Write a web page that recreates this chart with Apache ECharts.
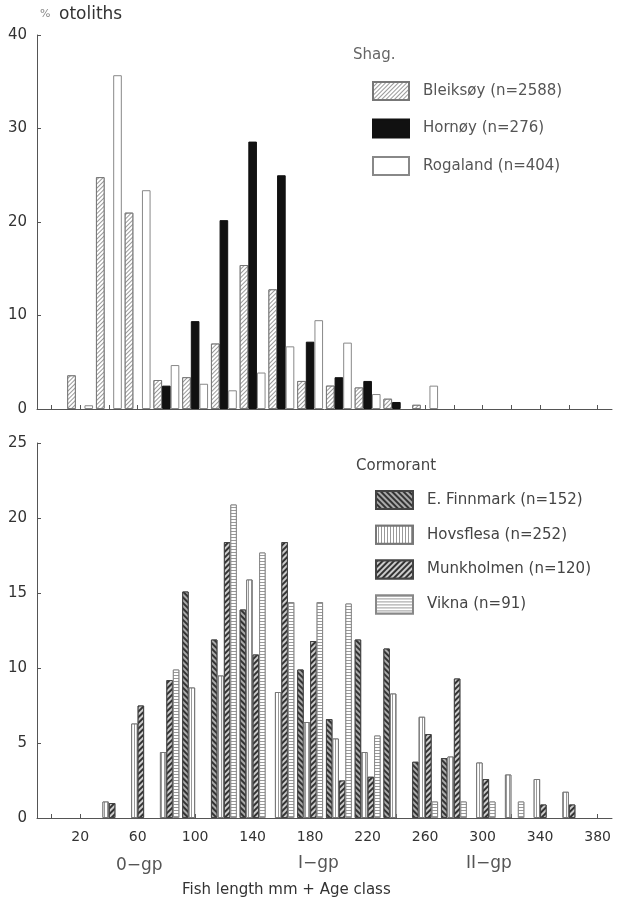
<!DOCTYPE html>
<html>
<head>
<meta charset="utf-8">
<script src="https://cdn.jsdelivr.net/npm/echarts@6/dist/echarts.min.js"></script>
<style>
html,body{margin:0;padding:0;background:#fff;}
#chart{width:617px;height:908px;}
</style>
</head>
<body>
<div id="chart"></div>
<script>
// Length classes (mm), 20 mm bins
const categories = [0,20,40,60,80,100,120,140,160,180,200,220,240,260,280,300,320,340,360,380];

// Shag (% otoliths)
const bleiksoy = [0,3.6,24.8,21.0,3.1,3.4,7.0,15.4,12.8,3.0,2.5,2.3,1.1,0.45,0,0,0,0,0,0];
const hornoy   = [0,0,0,0,2.5,9.4,20.2,28.6,25.0,7.2,3.4,3.0,0.75,0,0,0,0,0,0,0];
const rogaland = [0,0.4,35.7,23.4,4.7,2.7,2.0,3.9,6.7,9.5,7.1,1.6,0,2.5,0,0,0,0,0,0];

// Cormorant (% otoliths)
const finnmark   = [0,0,0,0,0,15.1,11.9,13.9,0,9.9,6.6,11.9,11.3,3.75,4.0,0,0,0,0,0];
const hovsflesa  = [0,0,1.1,6.3,4.4,8.7,9.5,15.9,8.4,6.4,5.3,4.4,8.3,6.75,4.1,3.7,2.9,2.6,1.75,0];
const munkholmen = [0,0,1.0,7.5,9.2,0,18.4,10.9,18.4,11.8,2.5,2.75,0,5.6,9.3,2.6,0,0.9,0.9,0];
const vikna      = [0,0,0,0,9.9,0,20.9,17.7,14.4,14.4,14.3,5.5,0,1.1,1.1,1.1,1.1,0,0,0];

const shagNames = ['Bleiksøy (n=2588)','Hornøy (n=276)','Rogaland (n=404)'];
const cormNames = ['E. Finnmark (n=152)','Hovsflesa (n=252)','Munkholmen (n=120)','Vikna (n=91)'];
const xLabels = [20,60,100,140,180,220,260,300,340,380];
const topTicks = [0,10,20,30,40];
const botTicks = [0,5,10,15,20,25];

const FONT = 'DejaVu Sans';
const TXT = '#333';

const chart = echarts.init(document.getElementById('chart'), null, {renderer:'canvas'});

function nz(arr){ return arr.map(function(v){ return v === 0 ? '-' : v; }); }

function xAxis(idx, showLabels){
  return {
    type:'category', gridIndex: idx, data: categories.map(String),
    axisLine:{lineStyle:{color:'#555', width:1}},
    axisTick:{show:true, inside:true, length:4, alignWithLabel:true, interval:0, lineStyle:{color:'#555'}},
    axisLabel:{show:showLabels, interval:function(i, v){ return xLabels.indexOf(Number(v)) >= 0; },
      color:TXT, fontFamily:FONT, fontSize:14, margin:12},
    splitLine:{show:false}
  };
}
function yAxis(idx, ticks){
  return {
    type:'value', gridIndex: idx, min: ticks[0], max: ticks[ticks.length-1], interval: ticks[1]-ticks[0],
    axisLine:{show:true, lineStyle:{color:'#555', width:1}},
    axisTick:{show:true, inside:true, length:4, lineStyle:{color:'#555'}},
    axisLabel:{color:TXT, fontFamily:FONT, fontSize:15, margin:10},
    splitLine:{show:false}
  };
}

function hatch(color, bg, rot, lw, gap){
  return {symbol:'rect', symbolSize:1, color:color, backgroundColor:bg,
    dashArrayX:[1,0], dashArrayY:[lw,gap], rotation:rot};
}

const barCommon = {type:'bar', barGap:'0%', barCategoryGap:'10%'};

const option = {
  animation:false,
  backgroundColor:'#fff',
  grid:[
    {left:37, right:5, top:35, height:374},
    {left:37, right:5, top:443, height:375}
  ],
  xAxis:[xAxis(0,false), xAxis(1,true)],
  yAxis:[yAxis(0, topTicks), yAxis(1, botTicks)],
  legend:[
    {data:shagNames, orient:'vertical', left:367, top:76, itemWidth:36, itemHeight:18, itemGap:17.5,
     icon:'rect', textStyle:{color:'#555', fontFamily:FONT, fontSize:15, padding:[0,0,0,9]}},
    {data:cormNames, orient:'vertical', left:370, top:485, itemWidth:37, itemHeight:18, itemGap:14.8,
     icon:'rect', textStyle:{color:'#444', fontFamily:FONT, fontSize:15, padding:[0,0,0,9]}}
  ],
  graphic:[
    {type:'text', left:40, top:9, style:{text:'%', fill:'#888', font:'11px "DejaVu Sans"'}},
    {type:'text', left:59, top:6, style:{text:'otoliths', fill:TXT, font:'17px "DejaVu Sans"'}},
    {type:'text', left:353, top:48, style:{text:'Shag.', fill:'#666', font:'15px "DejaVu Sans"'}},
    {type:'text', left:356, top:459, style:{text:'Cormorant', fill:'#444', font:'15px "DejaVu Sans"'}},
    {type:'text', left:116, top:857, style:{text:'0−gp', fill:'#555', font:'17px "DejaVu Sans"'}},
    {type:'text', left:298, top:855, style:{text:'I−gp', fill:'#555', font:'17px "DejaVu Sans"'}},
    {type:'text', left:466, top:855, style:{text:'II−gp', fill:'#555', font:'17px "DejaVu Sans"'}},
    {type:'text', left:182, top:883, style:{text:'Fish length mm + Age class', fill:'#333', font:'15px "DejaVu Sans"'}}
  ],
  series:[
    Object.assign({}, barCommon, {name:shagNames[0], xAxisIndex:0, yAxisIndex:0, data:nz(bleiksoy),
      itemStyle:{color:'#fff', borderColor:'#777', borderWidth:1, decal:hatch('#999','#fff',-Math.PI/4,1,2)}}),
    Object.assign({}, barCommon, {name:shagNames[1], xAxisIndex:0, yAxisIndex:0, data:nz(hornoy),
      itemStyle:{color:'#111', borderColor:'#111', borderWidth:1}}),
    Object.assign({}, barCommon, {name:shagNames[2], xAxisIndex:0, yAxisIndex:0, data:nz(rogaland),
      itemStyle:{color:'#fff', borderColor:'#888', borderWidth:1}}),
    Object.assign({}, barCommon, {name:cormNames[0], xAxisIndex:1, yAxisIndex:1, data:nz(finnmark),
      itemStyle:{color:'#999', borderColor:'#444', borderWidth:1, decal:hatch('#333','#aaa',Math.PI/4,1.2,1.3)}}),
    Object.assign({}, barCommon, {name:cormNames[1], xAxisIndex:1, yAxisIndex:1, data:nz(hovsflesa),
      itemStyle:{color:'#fff', borderColor:'#777', borderWidth:1, decal:hatch('#999','#fff',Math.PI/2,1,2)}}),
    Object.assign({}, barCommon, {name:cormNames[2], xAxisIndex:1, yAxisIndex:1, data:nz(munkholmen),
      itemStyle:{color:'#999', borderColor:'#444', borderWidth:1, decal:hatch('#333','#ccc',-Math.PI/4,1.5,1.8)}}),
    Object.assign({}, barCommon, {name:cormNames[3], xAxisIndex:1, yAxisIndex:1, data:nz(vikna),
      itemStyle:{color:'#fff', borderColor:'#888', borderWidth:1, decal:hatch('#999','#fff',0,1,2)}})
  ]
};
chart.setOption(option);
</script>
</body>
</html>
